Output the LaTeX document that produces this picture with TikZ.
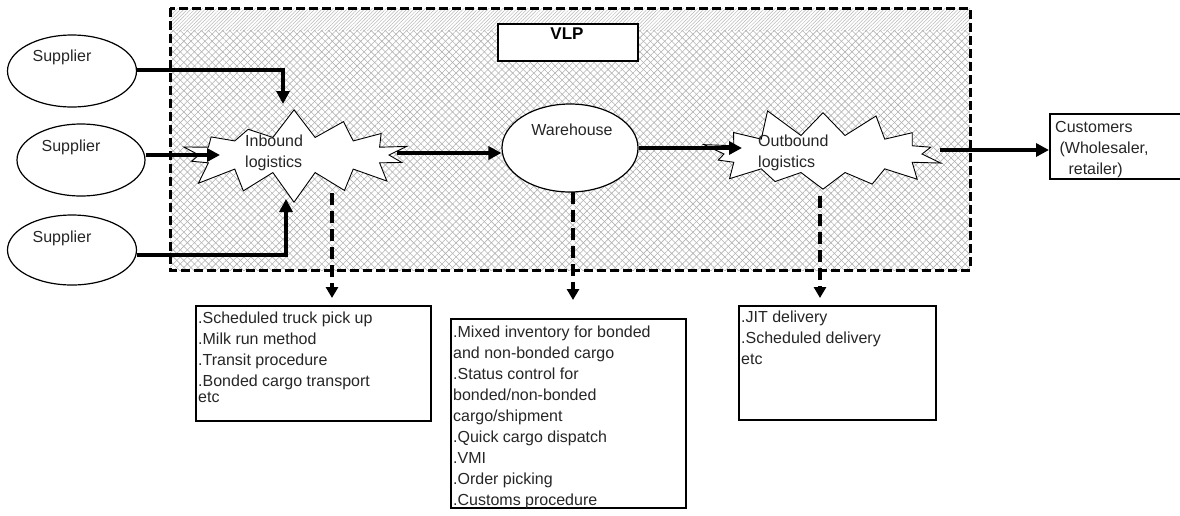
\documentclass[tikz,border=0pt]{standalone}
\usepackage{fontspec}
\setmainfont{Liberation Sans}
\usetikzlibrary{shapes.geometric,shapes.symbols,arrows.meta,patterns.meta}

\begin{document}
\begin{tikzpicture}[x=1pt,y=-1pt,
  txt/.style={font=\fontsize{16}{21}\selectfont, inner sep=0pt, align=left, text=black!85},
  supplier/.style={draw, ellipse, line width=1.2pt, fill=white, inner sep=0pt},
  burst/.style={draw, starburst, starburst points=14, starburst point height=30pt,
    random starburst=7, fill=white, line width=0.9pt, inner sep=0pt},
  listbox/.style={draw, rectangle, line width=2pt, fill=white, inner sep=0pt, anchor=north west},
  flow/.style={line width=4pt, -{Triangle[length=13pt,width=13pt]}},
  detail/.style={line width=3.5pt, dash pattern=on 12pt off 6pt, -{Triangle[length=11pt,width=12pt]}}
]
\useasboundingbox (0,0) rectangle (1180,515);

% VLP area: mesh pattern with a finer band along the top
\fill[pattern={Lines[angle=45,distance=5pt,line width=0.6pt]}, pattern color=gray!60] (170,8) rectangle (970,270);
\fill[pattern={Lines[angle=-45,distance=5pt,line width=0.6pt]}, pattern color=gray!60] (170,8) rectangle (970,270);
\fill[white] (170,8) rectangle (970,30);
\fill[pattern={Lines[angle=45,distance=2.5pt,line width=0.5pt]}, pattern color=gray!55] (170,8) rectangle (970,30);
\draw[line width=3pt, dash pattern=on 9pt off 4pt] (170,8) rectangle (970,270);

% VLP title box
\node[draw, line width=1.5pt, fill=white, minimum width=140pt, minimum height=37pt, anchor=north west] (vlpbox) at (497,23) {};
\node[font=\fontsize{17}{20}\selectfont\bfseries, inner sep=0pt] (vlp) at (567,34) {VLP};

% suppliers
\node[supplier, minimum width=129pt, minimum height=72pt] (s1) at (72,71) {};
\node[supplier, minimum width=128pt, minimum height=72pt] (s2) at (81,160) {};
\node[supplier, minimum width=129pt, minimum height=70pt] (s3) at (72,250) {};
\node[txt] (s1t) at (62,57) {Supplier};
\node[txt] (s2t) at (71,147) {Supplier};
\node[txt] (s3t) at (62,238) {Supplier};

% process nodes
\node[burst, minimum width=250pt, minimum height=96pt] (inb) at (294,155) {};
\node[txt, anchor=west] (inbt) at (245,153) {Inbound\\logistics};
\node[draw, ellipse, line width=1.2pt, fill=white, minimum width=136pt, minimum height=88pt, inner sep=0pt] (wh) at (570,148) {};
\node[txt] (wht) at (572,130) {Warehouse};
\node[burst, minimum width=258pt, minimum height=98pt, random starburst=11] (outb) at (823,154) {};
\node[txt, anchor=west] (outbt) at (758,153) {Outbound\\logistics};

% customers
\node[draw, rectangle, line width=1.5pt, fill=white, minimum width=136pt, minimum height=65pt, anchor=north west] (cust) at (1049,113) {};
\node[txt, anchor=north west] (custt) at (1055,121) {Customers\\\ (Wholesaler,\\\ \ \ retailer)};

% connector end points
\coordinate (in1) at (283,104);
\coordinate (in2) at (220,155);
\coordinate (in3) at (286,199);
\coordinate (ibo) at (397,153);
\coordinate (obi) at (742,148);
\coordinate (obo) at (940,150);
\coordinate (ibd) at (332,193);
\coordinate (ibe) at (332,298);
\coordinate (whd) at (573,192);
\coordinate (whe) at (573,300);
\coordinate (obd) at (820,196);
\coordinate (obe) at (820,298);

% material flow
\draw[flow] (s1.east |- 0,70) -| (in1);
\draw[flow] (s2.east |- 0,155) -- (in2);
\draw[flow] (s3.east |- 0,255) -| (in3);
\draw[flow] (ibo) -- (wh.west |- 0,153);
\draw[flow] (wh.east) -- (obi);
\draw[flow] (obo) -- (cust.west |- 0,150);

% service detail links
\draw[detail] (ibd) -- (ibe);
\draw[detail] (whd) -- (whe);
\draw[detail] (obd) -- (obe);

% service lists
\node[listbox, minimum width=235pt, minimum height=115pt] (b1) at (195,305) {};
\node[txt, anchor=north west] (b1t) at (198,312) {.Scheduled truck pick up\\.Milk run method\\.Transit procedure\\.Bonded cargo transport\\[-5pt]etc};
\node[listbox, minimum width=235pt, minimum height=189pt] (b2) at (450,318) {};
\node[txt, anchor=north west] (b2t) at (453,326) {.Mixed inventory for bonded\\and non-bonded cargo\\.Status control for\\bonded/non-bonded\\cargo/shipment\\.Quick cargo dispatch\\.VMI\\.Order picking\\.Customs procedure};
\node[listbox, minimum width=197pt, minimum height=114pt] (b3) at (738,305) {};
\node[txt, anchor=north west] (b3t) at (741,311) {.JIT delivery\\.Scheduled delivery\\etc};
\end{tikzpicture}
\end{document}
